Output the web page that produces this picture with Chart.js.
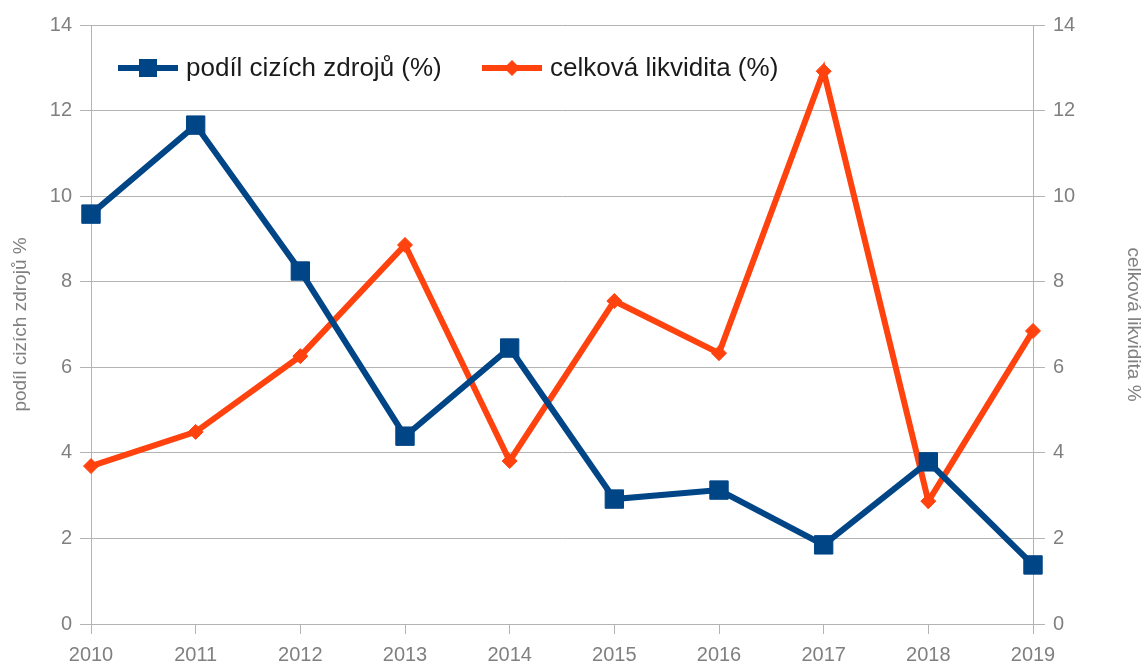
<!DOCTYPE html>
<html>
<head>
<meta charset="utf-8">
<script src="https://cdn.jsdelivr.net/npm/chart.js@4/dist/chart.umd.min.js"></script>
<style>
html,body{margin:0;padding:0;background:#fff;}
#wrap{width:1142px;height:666px;position:relative;}
</style>
</head>
<body>
<div id="wrap"><canvas id="c" width="1142" height="666"></canvas></div>
<script>
const years = ['2010','2011','2012','2013','2014','2015','2016','2017','2018','2019'];
const podilCizichZdroju = [9.58, 11.66, 8.25, 4.39, 6.45, 2.92, 3.13, 1.85, 3.79, 1.38];
const celkovaLikvidita = [3.69, 4.49, 6.26, 8.86, 3.81, 7.55, 6.33, 12.92, 2.87, 6.85];
const seriesNames = ['podíl cizích zdrojů (%)', 'celková likvidita (%)'];
const leftTitle = 'podíl cizích zdrojů %';
const rightTitle = 'celková likvidita %';

const BLUE = '#004586';
const ORANGE = '#ff420e';
const GRID = '#b3b3b3';
const TICKC = '#808080';
const FONT = '"Liberation Sans", Arial, sans-serif';

const insideLegend = {
  id: 'insideLegend',
  afterDatasetsDraw(chart) {
    const ctx = chart.ctx;
    const y = chart.chartArea.top + 43;
    const items = [
      {x: 118, color: BLUE, kind: 'rect', text: seriesNames[0]},
      {x: 482, color: ORANGE, kind: 'diamond', text: seriesNames[1]}
    ];
    ctx.save();
    items.forEach(it => {
      ctx.strokeStyle = it.color;
      ctx.lineWidth = 6;
      ctx.beginPath();
      ctx.moveTo(it.x, y);
      ctx.lineTo(it.x + 60, y);
      ctx.stroke();
      ctx.fillStyle = it.color;
      const cx = it.x + 30;
      if (it.kind === 'rect') {
        ctx.fillRect(cx - 9, y - 9, 18, 18);
      } else {
        ctx.beginPath();
        ctx.moveTo(cx, y - 8);
        ctx.lineTo(cx + 8, y);
        ctx.lineTo(cx, y + 8);
        ctx.lineTo(cx - 8, y);
        ctx.closePath();
        ctx.fill();
      }
      ctx.fillStyle = '#1a1a1a';
      ctx.font = '26px ' + FONT;
      ctx.textBaseline = 'middle';
      ctx.textAlign = 'left';
      ctx.fillText(it.text, it.x + 68, y + 1);
    });
    ctx.restore();
  }
};

new Chart(document.getElementById('c'), {
  type: 'line',
  data: {
    labels: years,
    datasets: [
      {
        label: seriesNames[0],
        data: podilCizichZdroju,
        yAxisID: 'y',
        borderColor: BLUE,
        backgroundColor: BLUE,
        borderWidth: 6,
        pointStyle: 'rect',
        pointRadius: 13,
        pointHoverRadius: 13,
        pointBorderWidth: 1,
        tension: 0,
        borderJoinStyle: 'miter'
      },
      {
        label: seriesNames[1],
        data: celkovaLikvidita,
        yAxisID: 'y1',
        borderColor: ORANGE,
        backgroundColor: ORANGE,
        borderWidth: 6,
        pointStyle: 'rectRot',
        pointRadius: 7.5,
        pointHoverRadius: 7.5,
        pointBorderWidth: 1,
        tension: 0,
        borderJoinStyle: 'miter'
      }
    ]
  },
  options: {
    responsive: false,
    animation: false,
    events: [],
    layout: {padding: {top: 25, left: 0, right: 0, bottom: 0}},
    plugins: {legend: {display: false}, tooltip: {enabled: false}},
    scales: {
      x: {
        offset: false,
        grid: {display: true, drawOnChartArea: false, drawTicks: true, tickLength: 10, color: GRID, lineWidth: 1},
        border: {display: true, color: GRID},
        ticks: {color: TICKC, font: {family: FONT, size: 20}, padding: 9, maxRotation: 0, autoSkip: false},
        afterFit(s) { s.height = 42; }
      },
      y: {
        position: 'left',
        min: 0, max: 14,
        grid: {color: GRID, lineWidth: 1, tickLength: 11, drawTicks: true},
        border: {display: true, color: GRID},
        ticks: {stepSize: 2, color: TICKC, font: {family: FONT, size: 20}, padding: 8},
        title: {display: true, text: leftTitle, color: TICKC, font: {family: FONT, size: 19, lineHeight: 0.9}, padding: 12},
        afterFit(s) { s.width = 91; }
      },
      y1: {
        position: 'right',
        min: 0, max: 14,
        grid: {color: GRID, lineWidth: 1, tickLength: 12, drawOnChartArea: false, drawTicks: true},
        border: {display: true, color: GRID},
        ticks: {stepSize: 2, color: TICKC, font: {family: FONT, size: 20}, padding: 8},
        title: {display: true, text: rightTitle, color: TICKC, font: {family: FONT, size: 19, lineHeight: 0.9}, padding: 0},
        afterFit(s) { s.width = 109; }
      }
    }
  },
  plugins: [insideLegend]
});
</script>
</body>
</html>
